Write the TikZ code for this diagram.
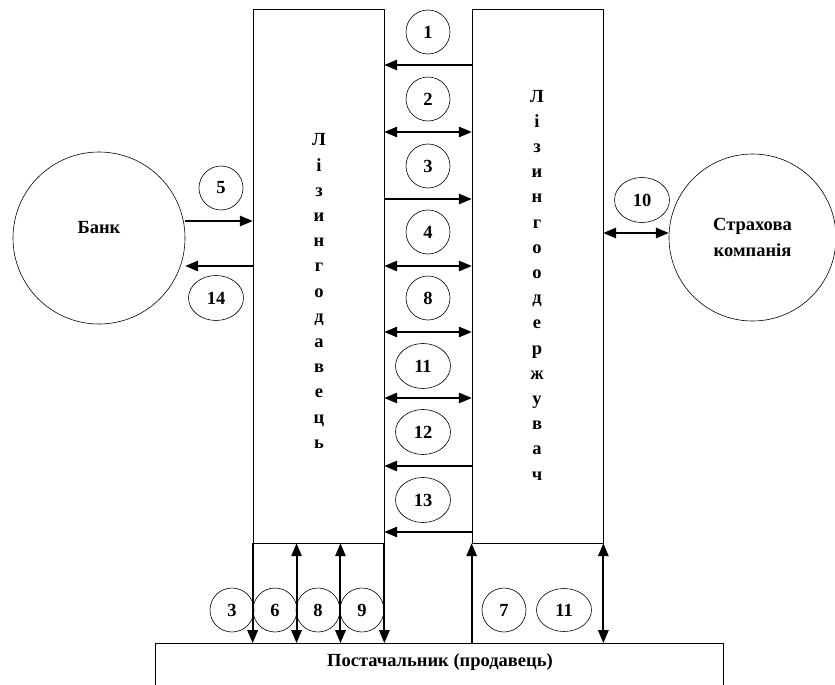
\documentclass[tikz,border=0pt]{standalone}
\usepackage{fontspec}
\setmainfont{Liberation Serif}[BoldFont={Liberation Serif Bold}]
\usetikzlibrary{arrows}
\usetikzlibrary{positioning}
\usetikzlibrary{calc}
\usetikzlibrary{shapes.geometric}

\tikzset{
  party/.style={draw, line width=0.7pt, rectangle, minimum width=131pt, minimum height=534pt, inner sep=0pt},
  num/.style={draw, circle, line width=0.6pt, minimum size=44pt, inner sep=0pt},
  numell/.style={draw, ellipse, line width=0.6pt, minimum width=55pt, minimum height=45pt, inner sep=0pt},
  flow/.style={line width=2pt}
}

\begin{document}
\begin{tikzpicture}[line join=round,>=triangle 45,x=1pt,y=1pt,font=\bfseries\fontsize{18.5}{25.2}\selectfont]
\clip(0,0) rectangle (835,-685);
% main parties
\node[party] (dav) at (318.5,-276) {};
\node[party] (der) at (537.5,-276) {};
\node[align=center] (davname) at (319,-291) {Л\\і\\з\\и\\н\\г\\о\\д\\а\\в\\е\\ц\\ь};
\node[align=center] (dername) at (537,-285) {Л\\і\\з\\и\\н\\г\\о\\о\\д\\е\\р\\ж\\у\\в\\а\\ч};
\node[draw, circle, line width=0.6pt, minimum size=172pt] (bank) at (99,-238) {};
\node (bankname) at (99,-228) {Банк};
\node[draw, circle, line width=0.6pt, minimum size=167pt, align=center] (insur) at (752.5,-237.5) {Страхова\\компанія};
\node[draw, line width=0.7pt, minimum width=568pt, minimum height=70pt, anchor=north] (supp) at (439,-643) {};
\node (suppname) at (440,-662) {Постачальник (продавець)};
% numbers between the parties
\node[num] (c1) at (428,-32) {1};
\node[num] (c2) at (428,-99) {2};
\node[num] (c3) at (428,-166) {3};
\node[num] (c4) at (428,-232) {4};
\node[num] (c8) at (428,-298) {8};
\node[numell] (c11) at (423,-366) {11};
\node[numell] (c12) at (423,-432) {12};
\node[numell] (c13) at (423,-500) {13};
\node[num] (c5) at (221,-188) {5};
\node[numell] (c14) at (216,-298) {14};
\node[numell] (c10) at (642,-200) {10};
% numbers above the supplier
\node[num] (b3) at (232,-610) {3};
\node[num] (b6) at (275,-610) {6};
\node[num] (b8) at (318,-610) {8};
\node[num] (b9) at (362,-610) {9};
\node[num] (b7) at (504,-610) {7};
\node[numell, minimum height=43pt] (b11) at (564,-610) {11};
% flows
\draw[flow,<-] (dav.east |- 0,-65) -- (der.west |- 0,-65);
\draw[flow,<->] (dav.east |- 0,-132) -- (der.west |- 0,-132);
\draw[flow,->] (dav.east |- 0,-199) -- (der.west |- 0,-199);
\draw[flow,<->] (dav.east |- 0,-266) -- (der.west |- 0,-266);
\draw[flow,<->] (dav.east |- 0,-332) -- (der.west |- 0,-332);
\draw[flow,<->] (dav.east |- 0,-398) -- (der.west |- 0,-398);
\draw[flow,<-] (dav.east |- 0,-466) -- (der.west |- 0,-466);
\draw[flow,<-] (dav.east |- 0,-532) -- (der.west |- 0,-532);
\draw[flow,->] (bank.east |- 0,-221) -- (dav.west |- 0,-221);
\draw[flow,<-] (bank.east |- 0,-266) -- (dav.west |- 0,-266);
\draw[flow,<->] (der.east |- 0,-233) -- (insur.west |- 0,-233);
\coordinate (dsa) at ($(dav.south west)!1/3!(dav.south east)$);
\coordinate (dsb) at ($(dav.south west)!2/3!(dav.south east)$);
\draw[flow,->] (dav.south west) -- (dav.south west |- supp.north);
\draw[flow,<->] (dsa) -- (dsa |- supp.north);
\draw[flow,<->] (dsb) -- (dsb |- supp.north);
\draw[flow,->] (dav.south east) -- (dav.south east |- supp.north);
\draw[flow,->] (der.south west |- supp.north) -- (der.south west);
\draw[flow,<->] (der.south east) -- (der.south east |- supp.north);
\end{tikzpicture}
\end{document}
